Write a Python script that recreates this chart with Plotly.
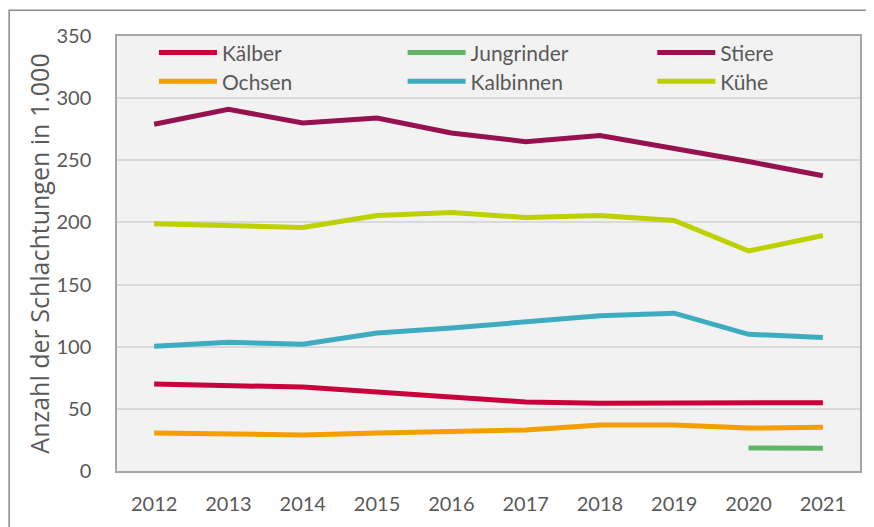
import plotly.graph_objects as go

years = ["2012", "2013", "2014", "2015", "2016", "2017", "2018", "2019", "2020", "2021"]

kaelber = [70, 69, 67.5, 63.5, 59.5, 55.5, 54.6, 54.6, 55.5, 55]
jungrinder = [None, None, None, None, None, None, None, None, 18.5, 18.3]
stiere = [279, 291, 280, 284, 272, 265, 270, 260, 249, 237.5]
ochsen = [30.5, 29.7, 29, 30.5, 31.3, 33, 37, 37, 34.5, 35.3]
kalbinnen = [100.3, 103.5, 102, 111, 115, 119.5, 125, 127, 110, 107.5]
kuehe = [199, 197.5, 196, 205.5, 208, 204, 205.5, 201.5, 177, 189.5]

series_names = ["Kälber", "Jungrinder", "Stiere", "Ochsen", "Kalbinnen", "Kühe"]
series_values = [kaelber, jungrinder, stiere, ochsen, kalbinnen, kuehe]
series_colors = ["#C8003C", "#62B567", "#961150", "#F59E00", "#3DACC0", "#BDD000"]

y_ticks = [0, 50, 100, 150, 200, 250, 300, 350]

# page body offset of the browser (8px) is compensated in the geometry below
W, H = 866, 519
ml, mr, mt, mb = 109, 13, 28, 53
pw, ph = W - ml - mr, H - mt - mb

def fx(px):
    return (px - ml) / pw

def fy(py):
    return (H - mb - py) / ph

fig = go.Figure()
legend_pos = [  # (line start x, row center y) in figure pixels
    (155, 45), (404, 45), (654, 45),
    (155, 74), (404, 74), (654, 74),
]
font_family = "Lato, 'Open Sans', sans-serif"
text_color = "#595959"

legends = {}
for i, (name, vals, col) in enumerate(zip(series_names, series_values, series_colors)):
    key = "legend" if i == 0 else f"legend{i + 1}"
    fig.add_trace(go.Scatter(
        x=years, y=vals, name=name, mode="lines",
        line=dict(color=col, width=5),
        connectgaps=False,
        legend=key,
    ))
    lx, ly = legend_pos[i]
    legends[key] = dict(
        x=fx(lx - 9), y=fy(ly), xanchor="left", yanchor="middle",
        bgcolor="rgba(0,0,0,0)",
        font=dict(family=font_family, size=21, color=text_color),
        itemwidth=58,
    )

fig.add_shape(type="rect", xref="paper", yref="paper",
              x0=fx(1), x1=fx(900), y0=fy(600), y1=fy(2),
              line=dict(color="#8A8A8A", width=1.5), fillcolor="rgba(0,0,0,0)",
              layer="below")

fig.update_layout(
    width=W, height=H,
    margin=dict(l=ml, r=mr, t=mt, b=mb),
    paper_bgcolor="white",
    plot_bgcolor="#F2F2F2",
    font=dict(family=font_family, color=text_color, size=20),
    showlegend=True,
    **legends,
    xaxis=dict(
        type="category",
        showgrid=False,
        showline=True, linecolor="#A6A6A6", linewidth=1.5, mirror=True,
        ticks="", tickfont=dict(size=20, color=text_color),
        ticklabelstandoff=14,
        range=[-0.5, 9.5],
        zeroline=False,
    ),
    yaxis=dict(
        range=[0, 350],
        tickvals=y_ticks,
        ticktext=[str(v) for v in y_ticks],
        showgrid=True, gridcolor="#D9D9D9", gridwidth=1.5,
        showline=True, linecolor="#A6A6A6", linewidth=1.5, mirror=True,
        ticks="", tickfont=dict(size=20, color=text_color),
        ticklabelstandoff=20,
        zeroline=False,
        title=dict(text="Anzahl der Schlachtungen in 1.000",
                   font=dict(family="'Open Sans', sans-serif", size=25, color=text_color),
                   standoff=0),
    ),
)

fig.write_html("out.html")
